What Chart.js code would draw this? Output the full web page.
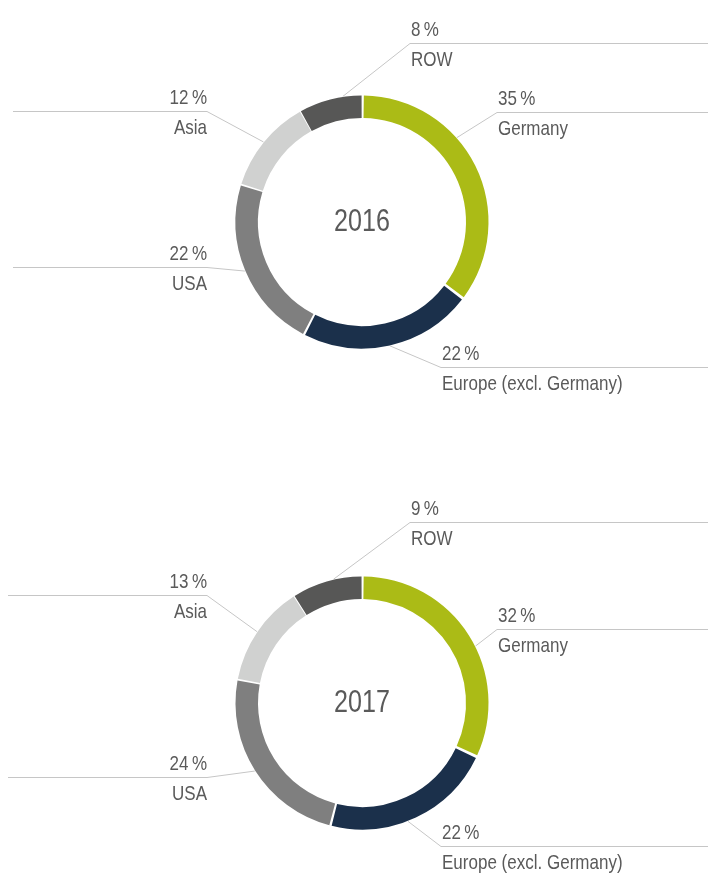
<!DOCTYPE html>
<html>
<head>
<meta charset="utf-8">
<script src="https://cdn.jsdelivr.net/npm/chart.js@4"></script>
<style>
  html, body { margin: 0; padding: 0; background: #fff; }
  canvas { display: block; }
</style>
</head>
<body>
<canvas id="chart2016" width="708" height="440"></canvas>
<canvas id="chart2017" width="708" height="436"></canvas>
<script>
"use strict";

// --- data ---
const regions = ['Germany', 'Europe (excl. Germany)', 'USA', 'Asia', 'ROW'];
const shares2016 = [35, 22, 22, 12, 8];
const shares2017 = [32, 22, 24, 13, 9];
const regionColors = ['#abbb16', '#1b304b', '#7f7f7f', '#d0d1d0', '#575756'];

const FONT = "'Liberation Sans', Arial, sans-serif";
const TEXT_COLOR = '#5a5a5a';
const LINE_COLOR = '#c6c6c6';
const SQUEEZE = 0.81; // fake a condensed face

// label layout: elbow offset from the ring centre, side, where along the arc the leader starts
const labelLayout2016 = [
    { dx: 135, dy: -110, side: 'right', t: 0.38 },
    { dx: 79, dy: 145, side: 'right', t: 0.5 },
    { dx: -155, dy: 45, side: 'left', t: 0.5 },
    { dx: -155, dy: -111, side: 'left', t: 0.5 },
    { dx: 48, dy: -179, side: 'right', t: 0.7 }
];
const labelLayout2017 = [
    { dx: 135, dy: -74, side: 'right', t: 0.55 },
    { dx: 79, dy: 143, side: 'right', t: 0.55 },
    { dx: -155, dy: 74, side: 'left', t: 0.5 },
    { dx: -155, dy: -108, side: 'left', t: 0.5 },
    { dx: 48, dy: -181, side: 'right', t: 0.6 }
];

function fillNarrow(ctx, text, x, y, align) {
    ctx.save();
    ctx.translate(x, y);
    ctx.scale(SQUEEZE, 1);
    ctx.textAlign = align;
    ctx.fillText(text, 0, 0);
    ctx.restore();
}

const leaderLabels = {
    id: 'leaderLabels',
    afterDraw(chart, args, opts) {
        const ctx = chart.ctx;
        const arcs = chart.getDatasetMeta(0).data;
        const values = chart.data.datasets[0].data;
        ctx.save();
        arcs.forEach((arc, i) => {
            const p = arc.getProps(['x', 'y', 'startAngle', 'endAngle', 'outerRadius'], true);
            const lay = opts.layout[i];
            const a = p.startAngle + (p.endAngle - p.startAngle) * lay.t;
            const ax = p.x + Math.cos(a) * (p.outerRadius + 2);
            const ay = p.y + Math.sin(a) * (p.outerRadius + 2);
            const ex = p.x + lay.dx;
            const ey = Math.round(p.y + lay.dy) + 0.5;
            const endX = lay.side === 'right' ? chart.width : opts.leftEdge;

            ctx.strokeStyle = LINE_COLOR;
            ctx.lineWidth = 1;
            ctx.beginPath();
            ctx.moveTo(ax, ay);
            ctx.lineTo(ex, ey);
            ctx.lineTo(endX, ey);
            ctx.stroke();

            ctx.fillStyle = TEXT_COLOR;
            ctx.font = '21px ' + FONT;
            ctx.textBaseline = 'alphabetic';
            const align = lay.side === 'right' ? 'left' : 'right';
            const tx = lay.side === 'right' ? ex + 1 : ex;
            fillNarrow(ctx, values[i] + '\u2009%', tx, ey - 8, align);
            fillNarrow(ctx, chart.data.labels[i], tx, ey + 22, align);
        });

        // year in the middle
        const c = arcs[0].getProps(['x', 'y'], true);
        ctx.font = '31px ' + FONT;
        ctx.textBaseline = 'middle';
        ctx.fillStyle = TEXT_COLOR;
        fillNarrow(ctx, opts.year, c.x, c.y, 'center');
        ctx.restore();
    }
};

function renderDonut(canvasId, year, values, layout, centerY, leftEdge) {
    const canvas = document.getElementById(canvasId);
    const centerX = 362;
    const radius = 125;
    const gap = 3;
    const size = radius * 2 + gap;
    const padLeft = centerX - size / 2;
    const padTop = centerY - size / 2;

    return new Chart(canvas.getContext('2d'), {
        type: 'doughnut',
        data: {
            labels: regions,
            datasets: [{
                data: values,
                backgroundColor: regionColors,
                borderWidth: 0,
                spacing: gap
            }]
        },
        plugins: [leaderLabels],
        options: {
            responsive: false,
            animation: false,
            cutout: '82%',
            layout: {
                padding: {
                    left: padLeft,
                    top: padTop,
                    right: canvas.width - padLeft - size,
                    bottom: canvas.height - padTop - size
                }
            },
            plugins: {
                legend: { display: false },
                tooltip: { enabled: false },
                leaderLabels: { layout, year, leftEdge }
            }
        }
    });
}

renderDonut('chart2016', '2016', shares2016, labelLayout2016, 222, 13);
renderDonut('chart2017', '2017', shares2017, labelLayout2017, 263, 8);
</script>
</body>
</html>
